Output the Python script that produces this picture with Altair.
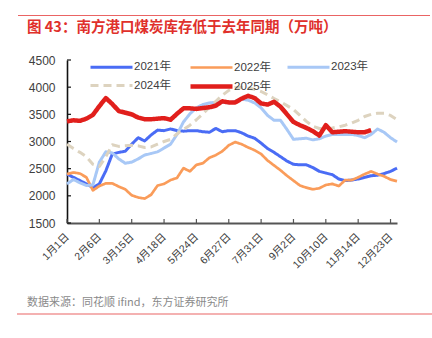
import altair as alt
import pandas as pd

# ---------------- data ----------------
years = ["2021年", "2022年", "2023年", "2024年", "2025年"]
tick_labels = ["1月1日", "2月6日", "3月15日", "4月18日", "5月24日", "6月27日",
               "7月31日", "9月2日", "10月10日", "11月14日", "12月23日"]
tick_pos = [0, 5, 10, 15, 20, 25, 30, 35, 40, 45, 50]
y_ticks = [1500, 2000, 2500, 3000, 3500, 4000, 4500]

v2021 = [2400, 2340, 2280, 2220, 2150, 2220, 2460, 2770, 2800, 2820,
         2950, 3070, 3010, 3120, 3210, 3200, 3230, 3200, 3190, 3200,
         3200, 3180, 3170, 3240, 3180, 3200, 3200, 3160, 3100, 3060,
         2970, 2870, 2800, 2720, 2640, 2580, 2570, 2570, 2520, 2450,
         2420, 2390, 2310, 2280, 2290, 2310, 2340, 2370, 2380, 2410,
         2450, 2510]
v2022 = [2400, 2430, 2410, 2340, 2100, 2180, 2230, 2230, 2170, 2120,
         2010, 1970, 1950, 2020, 2190, 2220, 2290, 2330, 2510, 2450,
         2570, 2600, 2700, 2750, 2820, 2930, 2990, 2950, 2890, 2840,
         2770, 2650, 2560, 2470, 2370, 2280, 2190, 2150, 2120, 2140,
         2200, 2220, 2180, 2290, 2290, 2340, 2400, 2450, 2400, 2360,
         2300, 2270]
v2023 = [2220, 2300, 2240, 2190, 2200, 2620, 2810, 2790, 2680, 2600,
         2620, 2680, 2750, 2780, 2810, 2880, 2950, 3130, 3360, 3510,
         3620, 3680, 3710, 3720, 3720, 3710, 3740, 3780, 3760, 3710,
         3620, 3480, 3390, 3390, 3220, 3040, 3050, 3060, 3030, 3050,
         3100, 3130, 3130, 3130, 3130, 3110, 3070, 3130, 3230, 3170,
         3070, 2990]
v2024 = [2950, 2870, 2800, 2720, 2580, 2540, 2720, 2940, 2910, 2920,
         2930, 2920, 2890, 2900, 2950, 3000, 3040, 3140, 3220, 3300,
         3400, 3510, 3630, 3740, 3850, 3940, 3990, 4000, 3980, 3960,
         3920, 3860, 3790, 3730, 3660, 3590, 3480, 3370, 3280, 3240,
         3240, 3250, 3270, 3300, 3340, 3390, 3460, 3500, 3520, 3520,
         3480, 3400]
v2025 = [3370, 3390, 3380, 3420, 3490, 3650, 3800, 3690, 3560, 3530,
         3500, 3440, 3410, 3410, 3420, 3430, 3400, 3510, 3610, 3610,
         3600, 3615, 3630, 3660, 3740, 3720, 3720, 3790, 3840, 3800,
         3700, 3680, 3730, 3640, 3500, 3360, 3300, 3250, 3190, 3110,
         3300, 3170, 3180, 3190, 3180, 3170, 3170, 3210]

series = [v2021, v2022, v2023, v2024, v2025]
colors = ["#4a6cf5", "#fa9c5a", "#a8c8f6", "#ddd3bf", "#e11f1c"]
dashes = [[1, 0], [1, 0], [1, 0], [8, 5], [1, 0]]
widths = [3, 2.7, 3, 3, 4.5]

rows = []
for yr, vals in zip(years, series):
    for i, v in enumerate(vals):
        rows.append({"i": i, "v": v, "year": yr})
df = pd.DataFrame(rows)

labels_js = "[" + ",".join("'%s'" % s for s in tick_labels) + "]"
pos_js = "[" + ",".join(str(p) for p in tick_pos) + "]"
label_expr = "%s[indexof(%s, datum.value)]" % (labels_js, pos_js)

FONT = "Liberation Sans, Noto Sans CJK SC"

legend = alt.Legend(
    title=None, orient="none", legendX=35, legendY=-1.5,
    direction="horizontal", columns=3, symbolType="M-3,0H3",
    symbolSize=196, labelFontSize=11.5, labelColor="#404040",
    labelFont=FONT, columnPadding=9, rowPadding=3.5, labelOffset=13,
    padding=0,
)

xscale = alt.Scale(domain=[0, 51], nice=False, zero=False)
yscale = alt.Scale(domain=[1500, 4500], nice=False, zero=False)

x_axis = alt.Axis(values=tick_pos, labelExpr=label_expr, labelAngle=-45,
                  labelAlign="right", labelBaseline="middle",
                  labelPadding=12, ticks=False, tickSize=0, grid=False,
                  labelFontSize=10.5, labelColor="#404040", labelFont=FONT,
                  domainColor="#555555", domainWidth=1.8,
                  labelOverlap=False, title=None)
y_axis = alt.Axis(values=y_ticks, format="d", ticks=False, tickSize=0, grid=False,
                  labelPadding=12, labelFontSize=12, labelColor="#404040",
                  labelFont=FONT, domainColor="#111111", domainWidth=1.6,
                  title=None)

lines = alt.Chart(df).mark_line(strokeJoin="round").encode(
    x=alt.X("i:Q", scale=xscale, title=None, axis=x_axis),
    y=alt.Y("v:Q", scale=yscale, title=None, axis=y_axis),
    color=alt.Color("year:N", scale=alt.Scale(domain=years, range=colors), legend=legend),
    strokeDash=alt.StrokeDash("year:N", scale=alt.Scale(domain=years, range=dashes), legend=legend),
    strokeWidth=alt.StrokeWidth("year:N", scale=alt.Scale(type="ordinal", domain=years, range=widths), legend=legend),
)

ytick_rules = alt.Chart(pd.DataFrame({"v": y_ticks})).mark_rule(
    color="#111111", strokeWidth=1.2).encode(
    y=alt.Y("v:Q", scale=yscale, title=None, axis=y_axis), x=alt.value(0), x2=alt.value(4))

xtick_rules = alt.Chart(pd.DataFrame({"i": tick_pos})).mark_rule(
    color="#555555", strokeWidth=1.2).encode(
    x=alt.X("i:Q", scale=xscale, title=None, axis=x_axis), y=alt.value(163), y2=alt.value(159))

one = pd.DataFrame({"a": [0]})
title_txt = alt.Chart(one).mark_text(
    align="left", baseline="middle", fontSize=14.5, fontWeight="bold",
    color="#e0302b", font="Noto Sans CJK SC").encode(
    x=alt.value(-40), y=alt.value(-32),
    text=alt.value("图 43：南方港口煤炭库存低于去年同期（万吨）"))

footer_txt = alt.Chart(one).mark_text(
    align="left", baseline="middle", fontSize=11,
    color="#8a8a8a", font="Noto Sans CJK SC").encode(
    x=alt.value(-40), y=alt.value(243),
    text=alt.value("数据来源：同花顺 ifind，东方证券研究所"))

top_line = alt.Chart(one).mark_rule(color="#ea6464", strokeWidth=1.2).encode(
    x=alt.value(-49), x2=alt.value(363), y=alt.value(-44.5))
bottom_line = alt.Chart(one).mark_rule(color="#ea6464", strokeWidth=1.2).encode(
    x=alt.value(-50), x2=alt.value(365), y=alt.value(254))

chart = alt.layer(
    lines, ytick_rules, xtick_rules, title_txt, footer_txt, top_line, bottom_line
).properties(
    width=330, height=163,
    padding={"left": 67, "top": 60, "right": 35, "bottom": 115},
    autosize=alt.AutoSizeParams(type="none"),
    background="white",
).configure_view(stroke=None)

chart.save("out.html", embed_options={"renderer": "svg", "actions": False})
